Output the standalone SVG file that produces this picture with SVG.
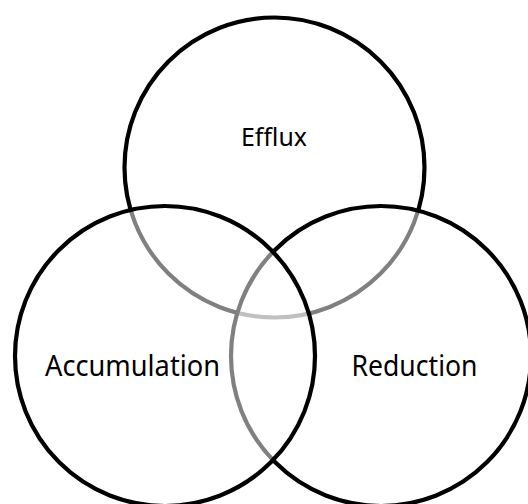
<svg xmlns="http://www.w3.org/2000/svg" width="528" height="504" viewBox="0 0 528 504">
  <style>
    .set { fill: #ffffff; fill-opacity: 0.5; stroke: #000000; stroke-width: 4.2; }
    .label { font-family: "Noto Sans", "Open Sans", "Liberation Sans", sans-serif; fill: #000000; text-anchor: middle; }
  </style>
  <rect width="528" height="504" fill="#ffffff"/>
  <!-- Sets drawn in stacking order: each half-white fill dims the outlines beneath it -->
  <g id="efflux">
    <circle class="set" cx="274.5" cy="167.5" r="150"/>
  </g>
  <g id="reduction">
    <circle class="set" cx="381" cy="356" r="150"/>
  </g>
  <g id="accumulation">
    <circle class="set" cx="165" cy="356" r="150"/>
  </g>
  <g id="labels">
    <text class="label" x="274" y="146" font-size="26" textLength="66" lengthAdjust="spacingAndGlyphs">Efflux</text>
    <text class="label" x="132.5" y="376" font-size="29" textLength="175" lengthAdjust="spacingAndGlyphs">Accumulation</text>
    <text class="label" x="414.5" y="376" font-size="29" textLength="126" lengthAdjust="spacingAndGlyphs">Reduction</text>
  </g>
</svg>
